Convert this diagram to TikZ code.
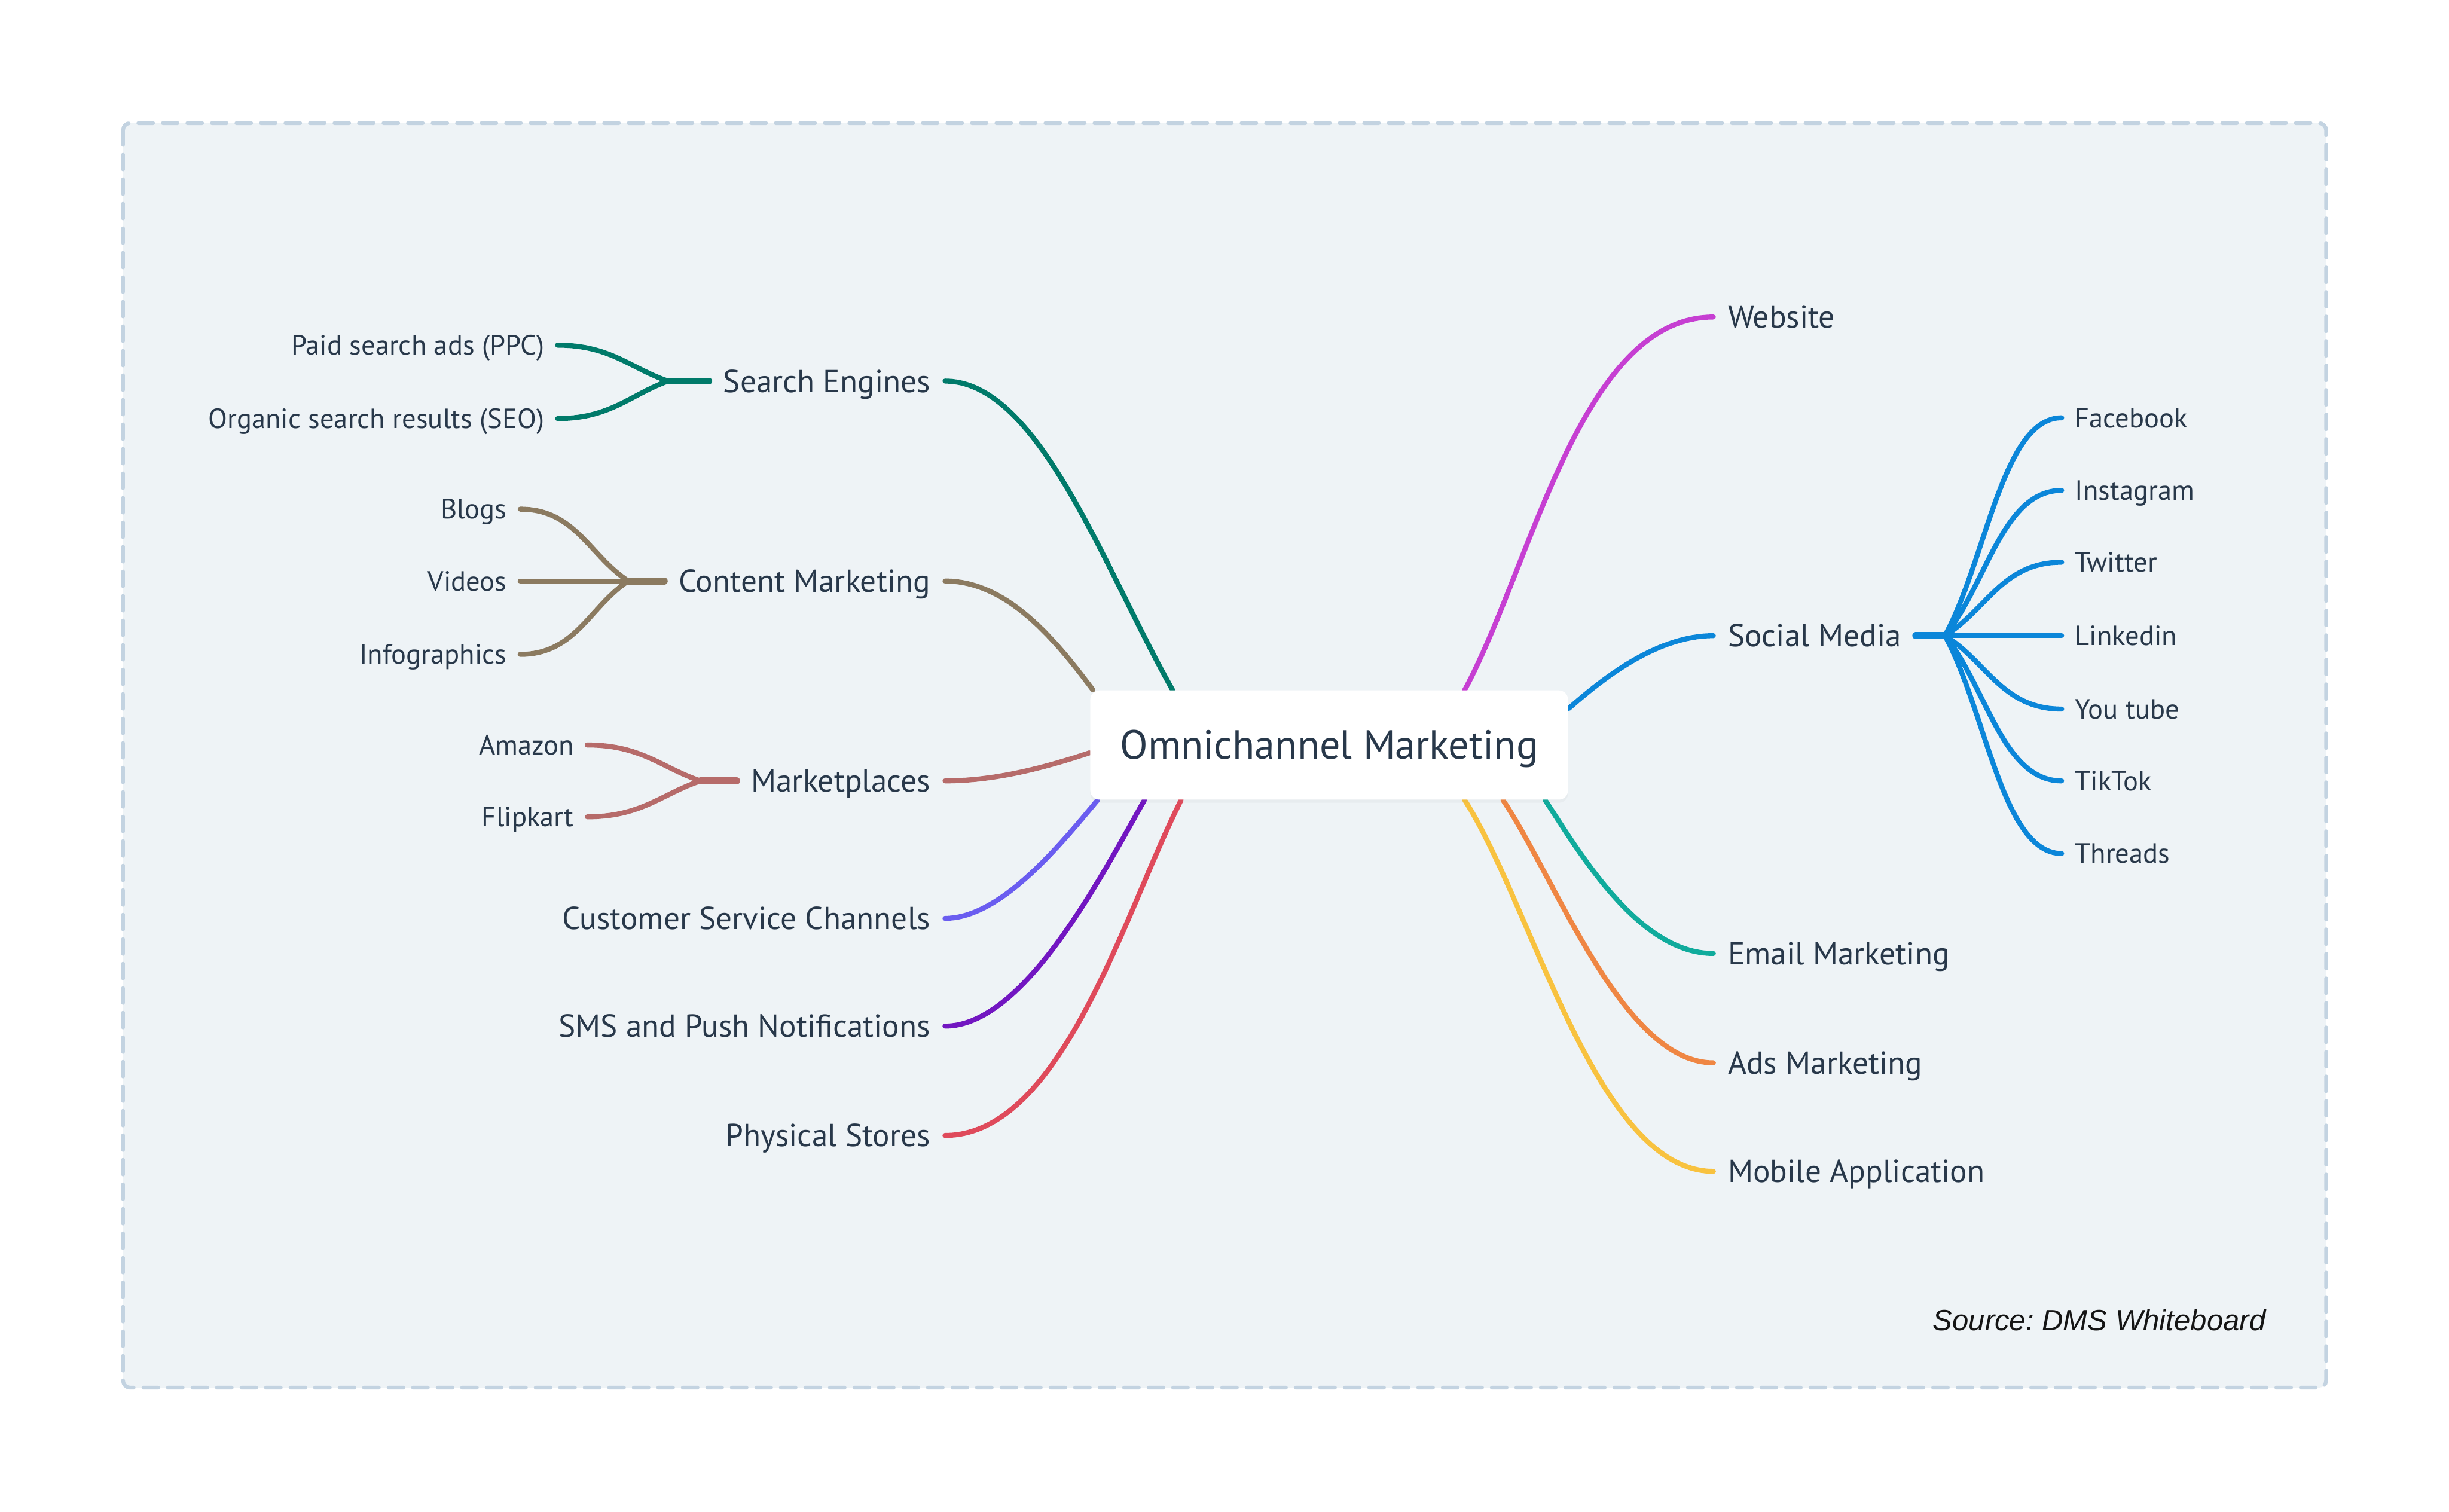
\documentclass[tikz,border=0pt]{standalone}
\usepackage{fontspec}
\setmainfont{PT Sans}
\newfontfamily\srcfont{Liberation Sans}
\usetikzlibrary{calc,shadows}
\definecolor{panel}{HTML}{EEF3F6}
\definecolor{panelborder}{HTML}{C3D3E1}
\definecolor{txt}{HTML}{28384A}
\definecolor{srctxt}{HTML}{151515}
\definecolor{cSearch}{HTML}{007A6A}
\definecolor{cContent}{HTML}{8B7A60}
\definecolor{cMarket}{HTML}{B66B6A}
\definecolor{cCustomer}{HTML}{6A5DF0}
\definecolor{cSMS}{HTML}{7216C1}
\definecolor{cStores}{HTML}{DF4A5B}
\definecolor{cWeb}{HTML}{C63FD2}
\definecolor{cSocial}{HTML}{0B86D9}
\definecolor{cEmail}{HTML}{10AB9C}
\definecolor{cAds}{HTML}{EF8643}
\definecolor{cMobile}{HTML}{F8C23F}
\pgfdeclarelayer{bg}
\pgfdeclarelayer{lines}
\pgfsetlayers{bg,lines,main}
\tikzset{
  conn/.style={line width=0.064cm, line cap=round},
  junc/.style={line width=0.09cm, line cap=round},
  mainL/.style={anchor=east, inner xsep=0.18cm, inner ysep=0pt, text height=8.1pt, text depth=0pt, text=txt, font=\fontsize{11.6}{14}\selectfont},
  mainR/.style={mainL, anchor=west},
  subL/.style={anchor=east, inner xsep=0.165cm, inner ysep=0pt, text height=7.1pt, text depth=0pt, text=txt, font=\fontsize{10.15}{12}\selectfont},
  subR/.style={subL, anchor=west},
  rootbox/.style={fill=white, rounded corners=0.12cm, minimum width=6.12cm, minimum height=1.4cm, text height=10.4pt, text depth=0pt, inner sep=0pt, text=txt, font=\fontsize{14.85}{18}\selectfont, drop shadow={shadow xshift=0pt, shadow yshift=-0.04cm, opacity=0.06}},
  panelbox/.style={fill=panel, draw=panelborder, line width=0.048cm, line cap=round, dash pattern=on 0.19cm off 0.124cm, rounded corners=0.09cm}
}
\begin{document}
\frenchspacing
\begin{tikzpicture}[x=0.02cm, y=-0.02cm]
\useasboundingbox (0,0) rectangle (1568,968);
\begin{pgfonlayer}{bg}
\fill[white] (0,0) rectangle (1568,968);
\draw[panelbox] (78.8,78.8) rectangle (1489.3,888.5);
\end{pgfonlayer}

% root
\node[rootbox] (root) at (851,477) {Omnichannel Marketing};

% left main labels
\node[mainL] (se) at (605,244) {Search Engines};
\node[mainL] (cm) at (605,372) {Content Marketing};
\node[mainL] (mp) at (605,500) {Marketplaces};
\node[mainL] (cs) at (605,588) {Customer Service Channels};
\node[mainL] (sp) at (605,657) {SMS and Push Notifications};
\node[mainL] (ps) at (605,727) {Physical Stores};

% right main labels
\node[mainR] (ws) at (1097,203) {Website};
\node[mainR] (sm) at (1097,407) {Social Media};
\node[mainR] (em) at (1097,610.5) {Email Marketing};
\node[mainR] (am) at (1097,680.5) {Ads Marketing};
\node[mainR] (ma) at (1097,750) {Mobile Application};

% left sub labels
\node[subL] (ppc) at (357,221) {Paid search ads (PPC)};
\node[subL] (seo) at (357,268) {Organic search results (SEO)};
\node[subL] (blg) at (333,326) {Blogs};
\node[subL] (vid) at (333,372) {Videos};
\node[subL] (inf) at (333,419) {Infographics};
\node[subL] (amz) at (376,477) {Amazon};
\node[subL] (flp) at (376,523) {Flipkart};

% right sub labels
\node[subR] (fb) at (1320,267.5) {Facebook};
\node[subR] (ig) at (1320,314) {Instagram};
\node[subR] (tw) at (1320,360) {Twitter};
\node[subR] (li) at (1320,407) {Linkedin};
\node[subR] (yt) at (1320,454) {You tube};
\node[subR] (tt) at (1320,500) {TikTok};
\node[subR] (th) at (1320,546.5) {Threads};

% source
\node[anchor=base east, inner sep=0pt, text=srctxt, font=\srcfont\itshape\fontsize{10.7}{12}\selectfont] (src) at (1451,852) {Source: DMS Whiteboard};

\begin{pgfonlayer}{lines}
% main connectors, left
\draw[conn, cSearch]   (se.east) .. controls +(60,0) and +(-44,-78) .. ($(root.north west)+(53,0)$);
\draw[conn, cContent]  (cm.east) .. controls +(40,0) and +(-24,-32) .. ($(root.north west)+(2,0)$);
\draw[conn, cMarket]   (mp.east) .. controls +(35,0) and +(-23.8,7.8) .. ($(root.west)+(0,5)$);
\draw[conn, cCustomer] (cs.east) .. controls +(35,0) and +(-25.6,30.8) .. ($(root.south west)+(5,0)$);
\draw[conn, cSMS]      (sp.east) .. controls +(50,0) and +(-29.4,52.2) .. ($(root.south west)+(35,0)$);
\draw[conn, cStores]   (ps.east) .. controls +(75,0) and +(-36,71) .. ($(root.south west)+(58.5,0)$);
% main connectors, right
\draw[conn, cWeb]    (ws.west) .. controls +(-85,0) and +(42.75,-79.2) .. ($(root.north east)+(-66.5,0)$);
\draw[conn, cSocial] (sm.west) .. controls +(-38,0) and +(18.9,-16.4) .. ($(root.north east)+(0,12)$);
\draw[conn, cEmail]  (em.west) .. controls +(-48,0) and +(22,33.4) .. ($(root.south east)+(-15,0)$);
\draw[conn, cAds]    (am.west) .. controls +(-58,0) and +(33.6,49.8) .. ($(root.south east)+(-42,0)$);
\draw[conn, cMobile] (ma.west) .. controls +(-75,0) and +(43.2,67.2) .. ($(root.south east)+(-66.5,0)$);

% search engines subs
\coordinate (sej) at ($(se.west)+(-26,0)$);
\draw[conn, cSearch] (ppc.east) .. controls +(34,0) and +(-23.8,-8) .. (sej);
\draw[conn, cSearch] (seo.east) .. controls +(34,0) and +(-23.8,8.4) .. (sej);
\draw[junc, cSearch] (sej) -- (se.west);

% content marketing subs
\coordinate (cmj) at ($(cm.west)+(-23,0)$);
\draw[conn, cContent] (blg.east) .. controls +(35.5,0) and +(-24.9,-16.1) .. (cmj);
\draw[conn, cContent] (vid.east) -- (cmj);
\draw[conn, cContent] (inf.east) .. controls +(35.5,0) and +(-24.9,16.5) .. (cmj);
\draw[junc, cContent] (cmj) -- (cm.west);

% marketplaces subs
\coordinate (mpj) at ($(mp.west)+(-23,0)$);
\draw[conn, cMarket] (amz.east) .. controls +(35,0) and +(-24.5,-8) .. (mpj);
\draw[conn, cMarket] (flp.east) .. controls +(35,0) and +(-24.5,8) .. (mpj);
\draw[junc, cMarket] (mpj) -- (mp.west);

% social media subs
\coordinate (smj) at ($(sm.east)+(18.6,0)$);
\draw[junc, cSocial] (sm.east) -- (smj);
\draw[conn, cSocial] (smj) .. controls +(26.7,-48.8) and +(-38,0) .. (fb.west);
\draw[conn, cSocial] (smj) .. controls +(26.7,-32.6) and +(-38,0) .. (ig.west);
\draw[conn, cSocial] (smj) .. controls +(26.7,-16.4) and +(-38,0) .. (tw.west);
\draw[conn, cSocial] (smj) -- (li.west);
\draw[conn, cSocial] (smj) .. controls +(26.7,16.4) and +(-38,0) .. (yt.west);
\draw[conn, cSocial] (smj) .. controls +(26.7,32.6) and +(-38,0) .. (tt.west);
\draw[conn, cSocial] (smj) .. controls +(26.7,48.9) and +(-38,0) .. (th.west);
\end{pgfonlayer}
\end{tikzpicture}
\end{document}
